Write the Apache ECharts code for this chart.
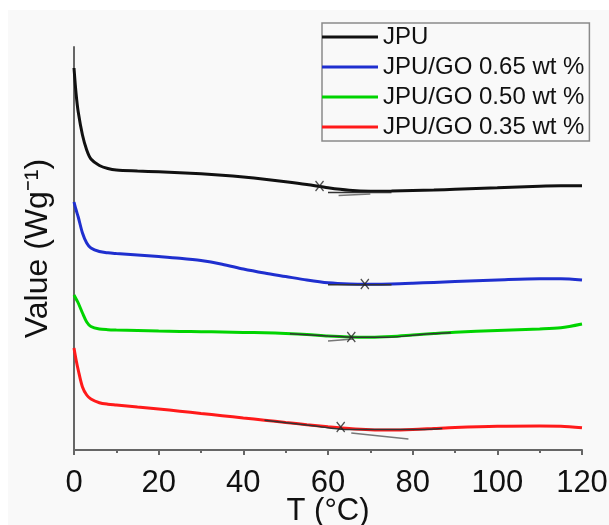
<!DOCTYPE html>
<html>
<head>
<meta charset="utf-8">
<script src="https://cdn.jsdelivr.net/npm/echarts@6/dist/echarts.min.js"></script>
<style>html,body{margin:0;padding:0;background:#f9f9f9}#c{width:609px;height:525px}</style>
</head>
<body>
<div id="c"></div>
<script>
// Temperature sample points (°C)
var temps = [0,0.5,1,2,3,4,6,8,10,15,20,25,30,35,40,45,50,55,60,65,70,75,80,85,90,100,110,115,120];
// Heat-flow values (arbitrary offset units)
var jpu   = [3.82,3.56,3.38,3.15,3.00,2.91,2.845,2.815,2.80,2.79,2.782,2.773,2.762,2.748,2.73,2.708,2.683,2.655,2.622,2.597,2.588,2.59,2.595,2.60,2.607,2.622,2.638,2.642,2.642];
var go065 = [2.48,2.40,2.33,2.17,2.07,2.02,1.985,1.972,1.965,1.95,1.935,1.918,1.895,1.858,1.81,1.77,1.735,1.70,1.672,1.66,1.658,1.66,1.667,1.676,1.685,1.70,1.712,1.712,1.70];
var go050 = [1.55,1.51,1.47,1.37,1.28,1.235,1.21,1.203,1.20,1.195,1.19,1.186,1.183,1.18,1.176,1.172,1.166,1.156,1.14,1.13,1.128,1.135,1.15,1.165,1.178,1.196,1.21,1.222,1.26];
var go035 = [1.02,0.90,0.80,0.63,0.55,0.51,0.473,0.458,0.45,0.43,0.41,0.388,0.365,0.343,0.32,0.298,0.275,0.253,0.233,0.215,0.203,0.200,0.205,0.215,0.225,0.237,0.24,0.238,0.222];
var names = ['JPU','JPU/GO 0.65 wt %','JPU/GO 0.50 wt %','JPU/GO 0.35 wt %'];
var colors = ['#111111','#1f2fcf','#00d400','#ff1a1a'];
var xTicks = [0,20,40,60,80,100,120];
// Tg construction lines: [x, y] point pairs
var baseDark = [
  [[60,2.575],[75,2.575]],
  [[60,1.652],[75,1.652]],
  [[51,1.163],[60,1.14],[66,1.128],[74,1.128],[82,1.155],[89,1.172]],
  [[45,0.298],[57,0.24],[64,0.205],[82,0.205],[87,0.215]]
];
var baseGrey = [
  [[62.5,2.545],[70,2.56]],
  [[60,1.09],[66,1.11]],
  [[65.5,0.17],[79,0.11]]
];
// Tg markers (x, y)
var tgX = [58, 68.7, 65.5, 63];
var tgY = [2.64, 1.66, 1.13, 0.23];

function pairs(xs, ys){ return xs.map(function(x,i){ return [x, ys[i]]; }); }
var curves = [jpu, go065, go050, go035];
var series = curves.map(function(ys, i){
  return {
    name: names[i], type: 'line', data: pairs(temps, ys),
    smooth: 0.3, showSymbol: false, symbol: 'none',
    lineStyle: {color: colors[i], width: 3}, itemStyle: {color: colors[i]},
    z: 2, silent: true
  };
});
baseDark.forEach(function(seg){
  series.push({type:'line', data: seg, smooth: 0.3, showSymbol:false, symbol:'none',
    lineStyle:{color:'#333', width:1.5}, z:3, silent:true});
});
baseGrey.forEach(function(seg){
  series.push({type:'line', data: seg, showSymbol:false, symbol:'none',
    lineStyle:{color:'#777', width:1.5}, z:3, silent:true});
});
series.push({type:'scatter', data: pairs(tgX, tgY),
  symbol: 'path://M0 0L10 12M10 0L0 12', symbolSize: [8,10],
  itemStyle: {color: 'none', borderColor: '#222', borderWidth: 1.5}, z: 4, silent: true});

var chart = echarts.init(document.getElementById('c'), null, {renderer: 'canvas'});
chart.setOption({
  backgroundColor: '#f9f9f9',
  animation: false,
  graphic: [
    {type:'rect', shape:{x:0,y:0,width:609,height:10}, style:{fill:'#ffffff'}, z:-10},
    {type:'rect', shape:{x:0,y:0,width:8,height:525}, style:{fill:'#ffffff'}, z:-10}
  ],
  grid: {left: 74, right: 27, top: 47, bottom: 75, containLabel: false, outerBoundsMode: 'none'},
  legend: {
    data: names, orient: 'vertical', left: 322, top: 23,
    itemWidth: 56, itemHeight: 14, itemGap: 6,
    padding: [2, 5, 2, 0],
    borderColor: '#8a8a8a', borderWidth: 1.5, borderRadius: 0,
    icon: 'path://M0 5.5L56 5.5L56 8.5L0 8.5Z',
    textStyle: {fontFamily: 'Liberation Sans', fontSize: 24, lineHeight: 24, color: '#111'}
  },
  xAxis: {
    type: 'value', min: 0, max: 120, interval: 20,
    name: 'T (°C)', nameLocation: 'middle', nameGap: 46, nameMoveOverlap: false,
    nameTextStyle: {fontFamily: 'Liberation Sans', fontSize: 31, color: '#111'},
    axisLine: {show: true, lineStyle: {color: '#666', width: 2}},
    axisTick: {show: true, inside: false, length: 5, lineStyle: {color: '#666', width: 2}},
    minorTick: {show: true, splitNumber: 2, length: 3, lineStyle: {color: '#666', width: 2}},
    axisLabel: {fontFamily: 'Liberation Sans', fontSize: 31, color: '#111', margin: 18,
      formatter: function(v){ return xTicks.indexOf(v) >= 0 ? String(v) : ''; }},
    splitLine: {show: false}
  },
  yAxis: {
    type: 'value', min: 0, max: 4.03,
    name: 'Value (Wg⁻¹)', nameLocation: 'middle', nameGap: 20, nameRotate: 90, nameMoveOverlap: false,
    nameTextStyle: {fontFamily: 'Liberation Sans', fontSize: 32, color: '#111'},
    axisLine: {show: true, lineStyle: {color: '#666', width: 2}},
    axisTick: {show: false}, axisLabel: {show: false}, splitLine: {show: false}
  },
  series: series
});
</script>
</body>
</html>
